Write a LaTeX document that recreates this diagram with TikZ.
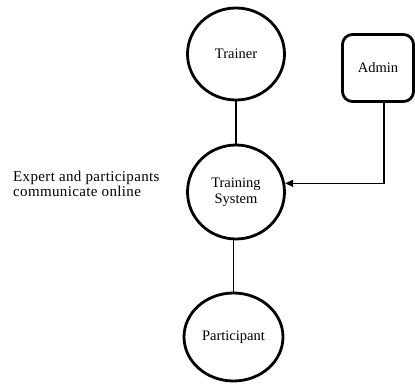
\documentclass[tikz,border=0pt]{standalone}
\usepackage{fontspec}
\setmainfont{Liberation Serif}
\newfontfamily\notefont[LetterSpace=2.4]{Liberation Serif}
\usetikzlibrary{shapes.geometric,arrows.meta}
\begin{document}
\begin{tikzpicture}[x=1pt,y=-1pt,
  proc/.style={ellipse,draw,line width=2.8pt,minimum width=97pt,minimum height=92pt,inner sep=0pt,align=center,font=\fontsize{14.5}{17}\selectfont},
  ent/.style={rectangle,rounded corners=10pt,draw,line width=2.8pt,minimum width=71pt,minimum height=67pt,font=\fontsize{14.5}{17}\selectfont},
  conn/.style={line width=1.3pt}]
\useasboundingbox (0,0) rectangle (415,383);
\node[proc] (trainer) at (236,54) {Trainer};
\node[ent] (admin) at (378,68) {Admin};
\node[proc,minimum height=94pt] (ts) at (236,192) {Training\\[-1pt]System};
\node[proc,minimum width=99pt,minimum height=88pt] (part) at (233.5,337) {Participant};
\node[anchor=west,align=left,font=\notefont\fontsize{15}{15.5}\selectfont,inner sep=0pt] (note) at (13,184) {Expert and participants\\communicate online};
\draw[conn] (trainer) -- (ts);
\draw[conn] (ts.south -| part.north) -- (part);
\draw[conn,-{Triangle[length=8pt,width=7pt]}] (admin.south -| 384,0) |- (ts.10);
\end{tikzpicture}
\end{document}
